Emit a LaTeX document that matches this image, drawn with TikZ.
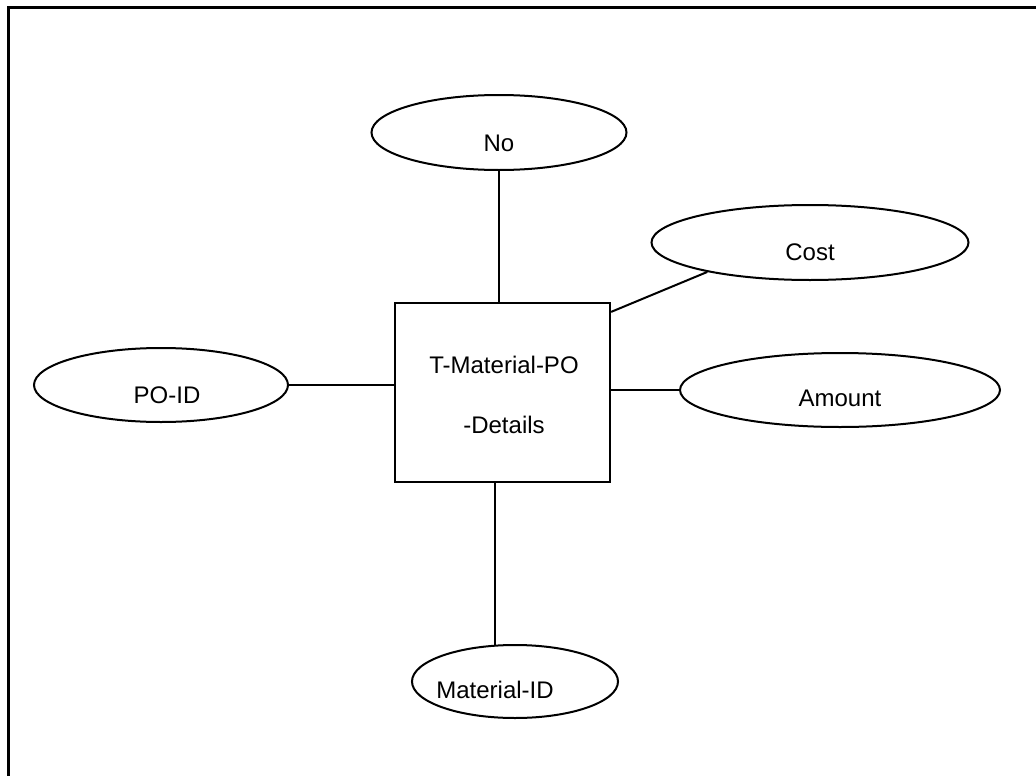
\documentclass[tikz,border=0pt]{standalone}
\usepackage{fontspec}
\setmainfont{Liberation Sans}
\usetikzlibrary{shapes.geometric}
\begin{document}
\begin{tikzpicture}[x=1pt,y=-1pt,
  attr/.style={draw, ellipse, line width=2pt, inner sep=0pt},
  ent/.style={draw, rectangle, line width=2.2pt, inner sep=0pt, minimum width=215pt, minimum height=179pt},
  lbl/.style={font=\fontsize{24}{28}\selectfont, inner sep=0pt},
  conn/.style={line width=2pt}]
\useasboundingbox (0,0) rectangle (1036,776);
% frame
\draw[line width=3pt] (8,790) -- (8,8) -- (1050,8);
% entity
\node[ent] (box) at (502.5,392.5) {};
\node[lbl] (boxT1) at (504,365) {T-Material-PO};
\node[lbl] (boxT2) at (504,425) {-Details};
% attributes
\node[attr, minimum width=255pt, minimum height=75pt] (no) at (499,132.5) {};
\node[lbl] (noT) at (499,143) {No};
\node[attr, minimum width=317pt, minimum height=75pt] (cost) at (810,242.5) {};
\node[lbl] (costT) at (810,252) {Cost};
\node[attr, minimum width=320pt, minimum height=74pt] (amount) at (840,390) {};
\node[lbl] (amountT) at (840,398) {Amount};
\node[attr, minimum width=254pt, minimum height=74pt] (poid) at (161,385) {};
\node[lbl] (poidT) at (167,395) {PO-ID};
\node[attr, minimum width=206pt, minimum height=73pt] (mat) at (515,681.5) {};
\node[lbl] (matT) at (495,690) {Material-ID};
% connectors
\draw[conn] (box.north -| no.south) -- (no.south);
\draw[conn] ([yshift=-10pt]box.north east) -- (cost.196);
\draw[conn] (box.east |- amount.west) -- (amount.west);
\draw[conn] (poid.east) -- (box.west |- poid.east);
\draw[conn] (box.south -| mat.118) -- (mat.118);
\end{tikzpicture}
\end{document}
